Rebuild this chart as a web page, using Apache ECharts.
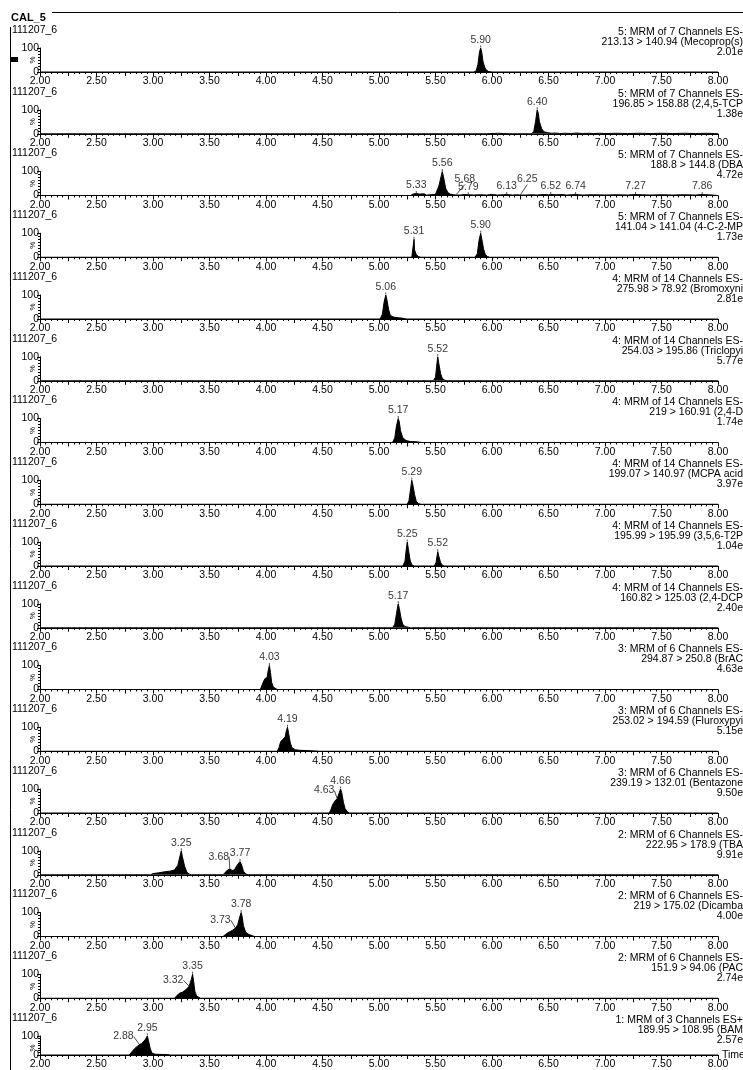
<!DOCTYPE html>
<html><head><meta charset="utf-8">
<script src="https://cdn.jsdelivr.net/npm/echarts@6/dist/echarts.min.js"></script>
<style>html,body{margin:0;padding:0;background:#fff}#c{width:743px;height:1070px}</style>
</head><body><div id="c"></div>
<script>
// ---------- DATA ----------
const sampleName = 'CAL_5';
const fileName = '111207_6';
const xTicks = ['2.00','2.50','3.00','3.50','4.00','4.50','5.00','5.50','6.00','6.50','7.00','7.50','8.00'];
const functionLines = [
 '5: MRM of 7 Channels ES-','5: MRM of 7 Channels ES-','5: MRM of 7 Channels ES-','5: MRM of 7 Channels ES-',
 '4: MRM of 14 Channels ES-','4: MRM of 14 Channels ES-','4: MRM of 14 Channels ES-','4: MRM of 14 Channels ES-',
 '4: MRM of 14 Channels ES-','4: MRM of 14 Channels ES-',
 '3: MRM of 6 Channels ES-','3: MRM of 6 Channels ES-','3: MRM of 6 Channels ES-',
 '2: MRM of 6 Channels ES-','2: MRM of 6 Channels ES-','2: MRM of 6 Channels ES-',
 '1: MRM of 3 Channels ES+'];
const transitionLines = [
 '213.13 > 140.94 (Mecoprop(s)','196.85 > 158.88 (2,4,5-TCP','188.8 > 144.8 (DBA','141.04 > 141.04 (4-C-2-MP',
 '275.98 > 78.92 (Bromoxyni','254.03 > 195.86 (Triclopyi','219 > 160.91 (2,4-D','199.07 > 140.97 (MCPA acid',
 '195.99 > 195.99 (3,5,6-T2P','160.82 > 125.03 (2,4-DCP',
 '294.87 > 250.8 (BrAC','253.02 > 194.59 (Fluroxypyi','239.19 > 132.01 (Bentazone',
 '222.95 > 178.9 (TBA','219 > 175.02 (Dicamba','151.9 > 94.06 (PAC','189.95 > 108.95 (BAM'];
const intensityLines = ['2.01e','1.38e','4.72e','1.73e','2.81e','5.77e','1.74e','3.97e','1.04e','2.40e','4.63e','5.15e','9.50e','9.91e','4.00e','2.74e','2.57e'];

const trace01 = [[2,0],[5.84,0],[5.86,5],[5.875,30],[5.89,85],[5.90,100],[5.91,80],[5.92,45],[5.935,20],[5.95,8],[5.97,2],[6.0,0],[8,0]];
const trace02 = [[2,0],[5.95,0],[6.0,1],[6.05,2],[6.1,1],[6.15,0],[6.35,0],[6.37,10],[6.385,50],[6.40,100],[6.41,85],[6.42,50],[6.44,20],[6.46,8],[6.5,4],[6.53,2],[6.56,3],[6.6,1],[6.65,2],[6.7,1],[6.75,3],[6.8,1],[6.85,2],[6.9,1],[6.95,2],[7.0,1],[7.1,2],[7.2,1],[7.3,2],[7.4,1],[7.5,2],[7.6,1],[7.7,2],[7.8,1],[7.9,2],[7.97,1],[8,0]];
const trace03 = [[2,0],[5.28,0],[5.30,6],[5.33,8],[5.36,6],[5.40,7],[5.42,2],[5.46,3],[5.50,5],[5.53,40],[5.56,100],[5.57,80],[5.59,30],[5.61,12],[5.63,6],[5.66,3],[5.68,2],[5.72,2],[5.76,4],[5.79,3],[5.84,2],[5.90,3],[5.95,2],[6.00,4],[6.05,2],[6.10,3],[6.13,4],[6.18,2],[6.22,3],[6.25,2],[6.30,2],[6.35,3],[6.40,2],[6.45,4],[6.50,3],[6.52,4],[6.57,3],[6.62,4],[6.66,2],[6.70,3],[6.74,4],[6.80,2],[6.9,3],[7.0,2],[7.1,3],[7.2,2],[7.27,4],[7.32,3],[7.4,2],[7.5,3],[7.6,2],[7.7,3],[7.8,2],[7.86,4],[7.95,2],[8,0]];
const trace04 = [[2,0],[5.29,0],[5.305,5],[5.31,75],[5.315,30],[5.33,10],[5.35,3],[5.37,0],[5.85,0],[5.87,15],[5.885,70],[5.90,100],[5.91,75],[5.925,35],[5.94,12],[5.96,3],[5.98,0],[8,0]];
const trace05 = [[2,0],[5.01,0],[5.03,20],[5.045,70],[5.06,100],[5.07,80],[5.085,40],[5.10,15],[5.13,8],[5.17,5],[5.20,4],[5.23,1],[5.25,0],[8,0]];
const trace06 = [[2,0],[5.48,0],[5.50,15],[5.51,60],[5.52,100],[5.53,70],[5.545,30],[5.56,10],[5.58,3],[5.60,0],[8,0]];
const trace07 = [[2,0],[5.12,0],[5.14,20],[5.155,70],[5.17,100],[5.18,85],[5.19,50],[5.21,20],[5.24,8],[5.28,4],[5.33,3],[5.36,1],[5.38,0],[8,0]];
const trace08 = [[2,0],[5.25,0],[5.265,15],[5.28,65],[5.29,100],[5.30,80],[5.315,40],[5.33,12],[5.35,3],[5.37,0],[8,0]];
const trace09 = [[2,0],[5.21,0],[5.23,20],[5.24,65],[5.25,100],[5.26,70],[5.275,25],[5.29,5],[5.31,0],[5.49,0],[5.505,15],[5.515,45],[5.52,60],[5.53,40],[5.545,15],[5.56,3],[5.58,0],[8,0]];
const trace10 = [[2,0],[5.12,0],[5.14,15],[5.155,60],[5.17,100],[5.18,80],[5.195,40],[5.21,15],[5.23,5],[5.26,2],[5.28,0],[8,0]];
const trace11 = [[2,0],[3.95,0],[3.96,8],[3.975,30],[3.99,45],[4.00,40],[4.01,50],[4.02,80],[4.03,100],[4.04,70],[4.05,30],[4.065,10],[4.08,3],[4.10,0],[8,0]];
const trace12 = [[2,0],[4.10,0],[4.115,15],[4.13,40],[4.15,50],[4.17,60],[4.18,85],[4.19,100],[4.20,75],[4.215,35],[4.23,15],[4.26,6],[4.30,4],[4.35,3],[4.40,2],[4.45,1],[4.47,0],[8,0]];
const trace13 = [[2,0],[4.56,0],[4.575,15],[4.59,35],[4.61,50],[4.63,60],[4.645,80],[4.66,100],[4.67,85],[4.685,45],[4.70,18],[4.72,5],[4.74,0],[8,0]];
const trace14 = [[2,0],[2.98,0],[3.00,5],[3.05,8],[3.10,12],[3.15,15],[3.19,20],[3.22,40],[3.24,80],[3.25,100],[3.26,75],[3.28,35],[3.30,10],[3.32,3],[3.34,0],[3.62,0],[3.64,10],[3.66,20],[3.68,25],[3.70,18],[3.72,20],[3.745,40],[3.77,55],[3.785,40],[3.80,15],[3.82,4],[3.84,0],[8,0]];
const trace15 = [[2,0],[3.62,0],[3.64,8],[3.66,15],[3.68,20],[3.70,25],[3.73,35],[3.75,50],[3.77,85],[3.78,100],[3.79,80],[3.80,45],[3.82,18],[3.85,8],[3.88,3],[3.90,0],[8,0]];
const trace16 = [[2,0],[3.19,0],[3.21,10],[3.23,20],[3.26,25],[3.29,35],[3.32,50],[3.34,80],[3.35,100],[3.36,70],[3.37,30],[3.385,10],[3.40,4],[3.42,0],[8,0]];
const trace17 = [[2,0],[2.79,0],[2.81,15],[2.84,35],[2.86,45],[2.88,55],[2.90,60],[2.93,80],[2.95,100],[2.96,75],[2.975,35],[2.99,10],[3.02,4],[3.08,3],[3.13,2],[3.15,0],[8,0]];

// peak labels: [retention time, apex %]
const peaks01 = [[5.90,100]];
const peaks02 = [[6.40,100]];
const peaks03 = [[5.33,8],[5.56,100],[5.68,2],[5.79,3],[6.13,4],[6.25,2],[6.52,4],[6.74,4],[7.27,4],[7.86,4]];
const peaks04 = [[5.31,75],[5.90,100]];
const peaks05 = [[5.06,100]];
const peaks06 = [[5.52,100]];
const peaks07 = [[5.17,100]];
const peaks08 = [[5.29,100]];
const peaks09 = [[5.25,100],[5.52,60]];
const peaks10 = [[5.17,100]];
const peaks11 = [[4.03,100]];
const peaks12 = [[4.19,100]];
const peaks13 = [[4.63,60],[4.66,100]];
const peaks14 = [[3.25,100],[3.68,25],[3.77,55]];
const peaks15 = [[3.73,35],[3.78,100]];
const peaks16 = [[3.32,50],[3.35,100]];
const peaks17 = [[2.88,55],[2.95,100]];

const traces = [trace01,trace02,trace03,trace04,trace05,trace06,trace07,trace08,trace09,trace10,trace11,trace12,trace13,trace14,trace15,trace16,trace17];
const peakSets = [peaks01,peaks02,peaks03,peaks04,peaks05,peaks06,peaks07,peaks08,peaks09,peaks10,peaks11,peaks12,peaks13,peaks14,peaks15,peaks16,peaks17];

// ---------- LAYOUT ----------
const FONT = 'Liberation Sans, Arial, sans-serif';
const FS = 10.5;
const firstAxisY = 72, step = 61.75, plotH = 24, plotL = 40, plotR = 25;
// label shifts (dx,dy) for labels drawn with leader lines: key "panel-index"
const labelShift = {'2-2':[9,-8],'2-5':[7,-8],'12-0':[-13,0],'13-1':[-11,-4],'14-0':[-15,0],'15-0':[-16,2],'16-0':[-16,0]};

const grids = [], xAxes = [], yAxes = [], series = [], graphics = [];
traces.forEach((tr, i) => {
  const ay = firstAxisY + step * i;
  grids.push({left: plotL, right: plotR, top: ay - plotH, height: plotH});
  xAxes.push({
    gridIndex: i, type: 'value', min: 2, max: 8, interval: 0.25,
    axisLine: {lineStyle: {color: '#000', width: 1}},
    axisTick: {length: 4, lineStyle: {color: '#000'}},
    minorTick: {show: true, splitNumber: 5, length: 2, lineStyle: {color: '#000'}},
    splitLine: {show: false},
    axisLabel: {fontSize: FS, fontFamily: FONT, color: '#000', margin: 4, interval: 0,
      formatter: v => { const s = v.toFixed(2); return xTicks.indexOf(s) >= 0 ? s : ''; }}
  });
  yAxes.push({
    gridIndex: i, type: 'value', min: 0, max: 100, interval: 100,
    axisLine: {show: true, lineStyle: {color: '#000', width: 1}},
    axisTick: {show: true, length: 3, lineStyle: {color: '#000'}},
    minorTick: {show: true, splitNumber: 8, length: 2, lineStyle: {color: '#000'}},
    splitLine: {show: false},
    axisLabel: {fontSize: FS, fontFamily: FONT, color: '#000', margin: 1}
  });
  series.push({
    type: 'line', xAxisIndex: i, yAxisIndex: i, data: tr, showSymbol: false, symbol: 'none',
    lineStyle: {color: '#000', width: 1}, areaStyle: {color: '#000', opacity: 1}, silent: true, animation: false
  });
  series.push({
    type: 'scatter', xAxisIndex: i, yAxisIndex: i, data: peakSets[i], symbolSize: 1,
    itemStyle: {color: 'rgba(0,0,0,0)'}, animation: false, silent: true,
    label: {show: true, position: 'top', distance: 2, fontSize: FS, fontFamily: FONT, color: '#000',
      formatter: p => p.value[0].toFixed(2)},
    labelLine: {show: true, lineStyle: {color: '#000', width: 0.7}},
    labelLayout: p => { const s = labelShift[i + '-' + p.dataIndex]; return s ? {dx: s[0], dy: s[1]} : {}; }
  });
  graphics.push({type: 'text', x: 12, y: ay - 42, style: {text: fileName, fontSize: FS, fontFamily: FONT, fill: '#000', verticalAlign: 'middle'}});
  graphics.push({type: 'text', x: 33, y: ay - 12, rotation: Math.PI / 2, style: {text: '%', fontSize: 8, fontFamily: FONT, fill: '#000', align: 'center', verticalAlign: 'middle'}});
  graphics.push({type: 'text', x: 743, y: ay - 40, style: {text: functionLines[i], fontSize: FS, fontFamily: FONT, fill: '#000', align: 'right', verticalAlign: 'middle'}});
  graphics.push({type: 'text', x: 743, y: ay - 30, style: {text: transitionLines[i], fontSize: FS, fontFamily: FONT, fill: '#000', align: 'right', verticalAlign: 'middle'}});
  graphics.push({type: 'text', x: 743, y: ay - 20, style: {text: intensityLines[i], fontSize: FS, fontFamily: FONT, fill: '#000', align: 'right', verticalAlign: 'middle'}});
});
const lastY = firstAxisY + step * 16;
graphics.push({type: 'text', x: 722, y: lastY - 5, style: {text: 'Time', fontSize: FS, fontFamily: FONT, fill: '#000', verticalAlign: 'middle'}});
graphics.push({type: 'text', x: 11, y: 18, style: {text: sampleName, fontSize: 11, fontWeight: 'bold', fontFamily: FONT, fill: '#000', verticalAlign: 'middle'}});
graphics.push({type: 'line', shape: {x1: 52, y1: 12.5, x2: 743, y2: 12.5}, style: {stroke: '#000', lineWidth: 1}});
graphics.push({type: 'line', shape: {x1: 10.5, y1: 27, x2: 10.5, y2: 1070}, style: {stroke: '#000', lineWidth: 1}});
graphics.push({type: 'rect', shape: {x: 10, y: 57, width: 8, height: 5}, style: {fill: '#000'}});

const chart = echarts.init(document.getElementById('c'), null, {renderer: 'canvas'});
chart.setOption({animation: false, grid: grids, xAxis: xAxes, yAxis: yAxes, series: series, graphic: graphics});
</script></body></html>
